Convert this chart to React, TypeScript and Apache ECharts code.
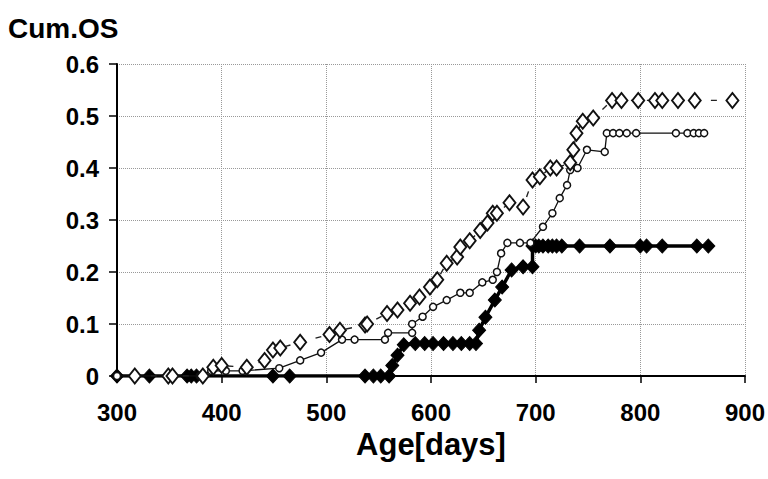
import React, { useEffect, useRef } from "react";
import * as echarts from "echarts";

const xTicks = [300, 400, 500, 600, 700, 800, 900];
const yTicks = [0, 0.1, 0.2, 0.3, 0.4, 0.5, 0.6];

// open diamonds (dashed thin line)
const openDiamondX = [317, 349, 353, 382, 392, 400, 424, 441, 449, 456, 475, 503, 513, 537, 539, 558, 568, 580, 589, 599, 606, 615, 625, 628, 637, 647, 654, 659, 663, 675, 688, 697, 704, 714, 720, 733, 736, 739, 745, 755, 773, 782, 798, 814, 821, 836, 852, 888];
const openDiamondY = [0, 0, 0, 0, 0.017, 0.02, 0.017, 0.03, 0.05, 0.054, 0.065, 0.08, 0.088, 0.098, 0.1, 0.12, 0.127, 0.14, 0.152, 0.171, 0.185, 0.217, 0.229, 0.248, 0.26, 0.28, 0.294, 0.313, 0.313, 0.333, 0.325, 0.377, 0.383, 0.4, 0.4, 0.41, 0.435, 0.467, 0.49, 0.496, 0.53, 0.53, 0.53, 0.53, 0.53, 0.53, 0.53, 0.53];

// open circles (thin solid line)
const circleX = [300, 379, 390, 404, 420, 455, 475, 495, 515, 527, 556, 559, 582, 582, 592, 602, 615, 628, 637, 649, 659, 663, 667, 673, 685, 695, 707, 716, 723, 730, 733, 740, 749, 766, 768, 774, 780, 787, 796, 834, 845, 851, 856, 861];
const circleY = [0, 0, 0.01, 0.01, 0.01, 0.015, 0.03, 0.045, 0.07, 0.07, 0.07, 0.083, 0.083, 0.1, 0.114, 0.133, 0.146, 0.16, 0.16, 0.18, 0.185, 0.2, 0.236, 0.256, 0.256, 0.256, 0.287, 0.313, 0.342, 0.367, 0.396, 0.4, 0.435, 0.431, 0.467, 0.467, 0.467, 0.467, 0.467, 0.467, 0.467, 0.467, 0.467, 0.467];

// filled diamonds (thick line)
const filledX = [300, 331, 367, 371, 376, 449, 465, 537, 545, 552, 560, 563, 568, 574, 585, 594, 602, 612, 621, 629, 637, 643, 646, 652, 661, 668, 677, 688, 697, 697, 700, 703, 707, 712, 716, 720, 725, 742, 771, 800, 806, 821, 854, 865];
const filledY = [0, 0, 0, 0, 0, 0, 0, 0, 0, 0, 0, 0.02, 0.04, 0.06, 0.0625, 0.0625, 0.0625, 0.0625, 0.0625, 0.0625, 0.0625, 0.0625, 0.088, 0.113, 0.146, 0.171, 0.204, 0.21, 0.21, 0.25, 0.25, 0.25, 0.25, 0.25, 0.25, 0.25, 0.25, 0.25, 0.25, 0.25, 0.25, 0.25, 0.25, 0.25];

const zip = (xs: number[], ys: number[]) => xs.map((x, i) => [x, ys[i]]);

const FONT = "'Liberation Sans', Arial, sans-serif";

export default function App() {
  const ref = useRef<HTMLDivElement>(null);
  useEffect(() => {
    if (!ref.current) return;
    const chart = echarts.init(ref.current, null, { renderer: "svg" });
    chart.setOption({
      animation: false,
      backgroundColor: "#ffffff",
      grid: { left: 117, right: 23, top: 64, bottom: 103, containLabel: false },
      graphic: [
        {
          type: "text",
          left: 8,
          top: 14,
          style: { text: "Cum.OS", font: `bold 28px ${FONT}`, fill: "#000" },
        },
      ],
      xAxis: {
        type: "value",
        min: xTicks[0],
        max: xTicks[xTicks.length - 1],
        interval: 100,
        name: "Age[days]",
        nameLocation: "middle",
        nameGap: 44,
        nameTextStyle: { fontSize: 31, fontWeight: "bold", fontFamily: FONT, color: "#000" },
        axisLine: { lineStyle: { color: "#000", width: 2 } },
        axisTick: { show: true, length: 7, lineStyle: { color: "#000", width: 1.5 } },
        axisLabel: { fontSize: 24, fontWeight: "bold", fontFamily: FONT, color: "#000", margin: 24 },
        splitLine: { show: true, lineStyle: { type: "dotted", color: "#999", width: 1 } },
      },
      yAxis: {
        type: "value",
        min: yTicks[0],
        max: yTicks[yTicks.length - 1],
        interval: 0.1,
        axisLine: { show: true, lineStyle: { color: "#000", width: 2 } },
        axisTick: { show: true, length: 8, lineStyle: { color: "#000", width: 1.5 } },
        axisLabel: {
          fontSize: 24,
          fontWeight: "bold",
          fontFamily: FONT,
          color: "#000",
          margin: 18,
          formatter: (v: number) => (v === 0 ? "0" : v.toFixed(1)),
        },
        splitLine: { show: true, lineStyle: { type: "dotted", color: "#999", width: 1 } },
      },
      series: [
        {
          type: "line",
          name: "filled",
          data: zip(filledX, filledY),
          symbol: "diamond",
          symbolSize: [13, 14],
          lineStyle: { color: "#000", width: 3.5 },
          itemStyle: { color: "#000", borderColor: "#000" },
          z: 2,
        },
        {
          type: "line",
          name: "circle",
          data: zip(circleX, circleY),
          symbol: "circle",
          symbolSize: 7,
          showAllSymbol: true,
          lineStyle: { color: "#111", width: 1.3 },
          itemStyle: { color: "#fff", borderColor: "#111", borderWidth: 1.5 },
          z: 3,
        },
        {
          type: "line",
          name: "diamond",
          data: zip(openDiamondX, openDiamondY),
          symbol: "diamond",
          symbolSize: [12, 15],
          showAllSymbol: true,
          lineStyle: { color: "#222", width: 1.4, type: [6, 10] },
          itemStyle: { color: "#fff", borderColor: "#111", borderWidth: 1.9 },
          z: 4,
        },
      ],
    });
    return () => chart.dispose();
  }, []);
  return <div ref={ref} style={{ width: 768, height: 479, position: "absolute", left: 0, top: 0 }} />;
}
